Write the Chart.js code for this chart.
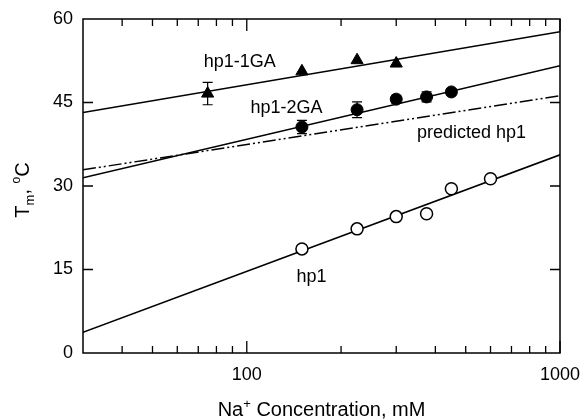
<!DOCTYPE html>
<html>
<head>
<meta charset="utf-8">
<script src="https://cdn.jsdelivr.net/npm/chart.js@4.4.1/dist/chart.umd.min.js"></script>
<style>
html, body { margin: 0; padding: 0; background: #fff; }
</style>
</head>
<body>
<canvas id="grafico" width="582" height="420"></canvas>
<script>
// Na+ concentration (mM) and melting temperatures (deg C)
var sal1GA = [75, 150, 225, 300];
var tm1GA = [46.6, 50.6, 52.6, 52.0];
var err1GA = [2.0, 0, 0, 0];

var sal2GA = [150, 225, 300, 375, 450];
var tm2GA = [40.6, 43.7, 45.6, 46.0, 46.9];
var err2GA = [1.2, 1.4, 0.7, 0.9, 0.6];

var salHp1 = [150, 225, 300, 375, 450, 600];
var tmHp1 = [18.7, 22.3, 24.5, 25.0, 29.5, 31.3];

// fitted lines, value at 30 mM and at 1000 mM
var ajusteX = [30, 1000];
var ajuste1GA = [43.2, 57.7];
var ajuste2GA = [31.5, 51.6];
var ajusteHp1 = [3.7, 35.6];
var prediccion = [32.9, 46.2];

var ticksY = [15, 30, 45];
var ticksXMayor = [100, 1000];
var ticksXMenor = [40, 50, 60, 70, 80, 90, 200, 300, 400, 500, 600, 700, 800, 900];

var etiquetas = [
    { texto: 'hp1-1GA', x: 95, y: 52.3 },
    { texto: 'hp1-2GA', x: 134, y: 44.0 },
    { texto: 'predicted hp1', x: 522, y: 39.5 },
    { texto: 'hp1', x: 161, y: 13.6 }
];

var fuente = '"Liberation Sans", Arial, sans-serif';

function puntos(xs, ys){
    var res = [];
    for(var i = 0; i < xs.length; i++){
        res.push({ x: xs[i], y: ys[i] });
    }
    return res;
}

function linea(ys, dash){
    return {
        data: puntos(ajusteX, ys),
        showLine: true,
        borderColor: '#000',
        borderWidth: 1.5,
        borderDash: dash || [],
        pointRadius: 0,
        order: 2
    };
}

// rich text: pieces of [text, size, baseline shift]
function textoCompuesto(ctx, partes, cx, base){
    var total = 0;
    partes.forEach(function(p){
        ctx.font = p[1] + 'px ' + fuente;
        total += ctx.measureText(p[0]).width;
    });
    var x = cx - total / 2;
    ctx.textAlign = 'left';
    ctx.textBaseline = 'alphabetic';
    partes.forEach(function(p){
        ctx.font = p[1] + 'px ' + fuente;
        ctx.fillText(p[0], x, base + p[2]);
        x += ctx.measureText(p[0]).width;
    });
}

var extras = {
    id: 'extras',
    beforeDatasetsDraw: function(chart){
        var ctx = chart.ctx, sx = chart.scales.x, sy = chart.scales.y;
        ctx.save();
        ctx.strokeStyle = '#000';
        ctx.lineWidth = 1.2;
        function barras(xs, ys, es){
            for(var i = 0; i < xs.length; i++){
                if(!es[i]) continue;
                var px = sx.getPixelForValue(xs[i]);
                var y1 = sy.getPixelForValue(ys[i] + es[i]);
                var y2 = sy.getPixelForValue(ys[i] - es[i]);
                ctx.beginPath();
                ctx.moveTo(px, y1); ctx.lineTo(px, y2);
                ctx.moveTo(px - 5, y1); ctx.lineTo(px + 5, y1);
                ctx.moveTo(px - 5, y2); ctx.lineTo(px + 5, y2);
                ctx.stroke();
            }
        }
        barras(sal1GA, tm1GA, err1GA);
        barras(sal2GA, tm2GA, err2GA);
        ctx.restore();
    },
    afterDraw: function(chart){
        var ctx = chart.ctx, a = chart.chartArea;
        var sx = chart.scales.x, sy = chart.scales.y;
        ctx.save();
        ctx.strokeStyle = '#000';
        ctx.fillStyle = '#000';
        ctx.lineWidth = 1.5;
        ctx.strokeRect(a.left, a.top, a.right - a.left, a.bottom - a.top);

        ctx.lineWidth = 1.3;
        ctx.beginPath();
        ticksY.forEach(function(v){
            var py = sy.getPixelForValue(v);
            ctx.moveTo(a.left, py); ctx.lineTo(a.left + 10, py);
            ctx.moveTo(a.right, py); ctx.lineTo(a.right - 10, py);
        });
        ticksXMayor.forEach(function(v){
            var px = sx.getPixelForValue(v);
            ctx.moveTo(px, a.bottom); ctx.lineTo(px, a.bottom - 12);
            ctx.moveTo(px, a.top); ctx.lineTo(px, a.top + 12);
        });
        ticksXMenor.forEach(function(v){
            var px = sx.getPixelForValue(v);
            ctx.moveTo(px, a.bottom); ctx.lineTo(px, a.bottom - 7);
            ctx.moveTo(px, a.top); ctx.lineTo(px, a.top + 7);
        });
        ctx.stroke();

        // series labels
        ctx.font = '18px ' + fuente;
        ctx.textAlign = 'center';
        ctx.textBaseline = 'middle';
        etiquetas.forEach(function(e){
            ctx.fillText(e.texto, sx.getPixelForValue(e.x), sy.getPixelForValue(e.y));
        });

        // axis titles
        textoCompuesto(ctx, [['Na', 20, 0], ['+', 13, -8], [' Concentration, mM', 20, 0]], (a.left + a.right) / 2, 416);
        ctx.translate(29, (a.top + a.bottom) / 2 + 4);
        ctx.rotate(-Math.PI / 2);
        textoCompuesto(ctx, [['T', 20, 0], ['m', 13, 5], [', ', 20, 0], ['o', 12, -9], ['C', 20, 0]], 0, 0);
        ctx.restore();
    }
};

var grafico = new Chart(document.getElementById('grafico'), {
    type: 'scatter',
    data: {
        datasets: [
            {
                data: puntos(sal1GA, tm1GA),
                pointStyle: 'triangle',
                pointRadius: 7,
                backgroundColor: '#000',
                borderColor: '#000',
                borderWidth: 1,
                order: 1
            },
            {
                data: puntos(sal2GA, tm2GA),
                pointStyle: 'circle',
                pointRadius: 6,
                backgroundColor: '#000',
                borderColor: '#000',
                borderWidth: 1,
                order: 1
            },
            {
                data: puntos(salHp1, tmHp1),
                pointStyle: 'circle',
                pointRadius: 6,
                backgroundColor: '#fff',
                borderColor: '#000',
                borderWidth: 1.5,
                order: 1
            },
            linea(ajuste1GA),
            linea(ajuste2GA),
            linea(ajusteHp1),
            linea(prediccion, [13, 3, 2, 3, 2, 3])
        ]
    },
    options: {
        responsive: false,
        animation: false,
        layout: { padding: { top: 19, right: 22, left: 0, bottom: 0 } },
        plugins: { legend: { display: false }, tooltip: { enabled: false } },
        scales: {
            x: {
                type: 'logarithmic',
                min: 30,
                max: 1000,
                grid: { display: false, drawTicks: false },
                border: { display: false },
                afterFit: function(s){
                    s.height = 67;
                    s.paddingLeft = 0;
                    s.paddingRight = 0;
                },
                ticks: {
                    autoSkip: false,
                    maxRotation: 0,
                    padding: 11,
                    color: '#000',
                    font: { family: fuente, size: 18 },
                    callback: function(v){
                        if(Math.abs(v - 100) < 0.01 || Math.abs(v - 1000) < 0.01){
                            return String(Math.round(v));
                        }
                        return '';
                    }
                }
            },
            y: {
                min: 0,
                max: 60,
                grid: { display: false, drawTicks: false },
                border: { display: false },
                afterFit: function(s){
                    s.width = 83;
                    s.paddingTop = 0;
                    s.paddingBottom = 0;
                },
                ticks: {
                    stepSize: 15,
                    padding: 10,
                    color: '#000',
                    font: { family: fuente, size: 18 }
                }
            }
        }
    },
    plugins: [extras]
});
</script>
</body>
</html>
